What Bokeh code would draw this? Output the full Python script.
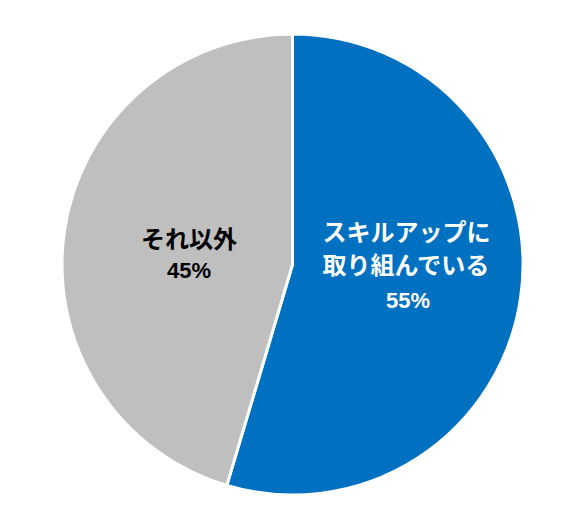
import numpy as np
from bokeh.plotting import figure
from bokeh.models import Range1d, ColumnDataSource
from bokeh.core.properties import value
from bokeh.embed import file_html
from bokeh.resources import INLINE

# ---- data ----
categories = ["スキルアップに\n取り組んでいる", "それ以外"]
shares = [54.6, 45.4]
pct_labels = ["55%", "45%"]
colors = ["#0070C0", "#BFBFBF"]

# ---- layout ----
W, H = 571, 510
cx, cy, r = 292, 246, 230.5

p = figure(width=W, height=H, output_backend="svg", toolbar_location=None,
           x_range=Range1d(0, W), y_range=Range1d(0, H), min_border=0)
p.axis.visible = False
p.grid.visible = False
p.outline_line_color = None
p.background_fill_color = "white"
p.border_fill_color = "white"

vals = np.array(shares, dtype=float)
frac = vals / vals.sum()
cum = np.concatenate([[0], np.cumsum(frac)])
start = np.pi / 2 - cum[:-1] * 2 * np.pi
end = np.pi / 2 - cum[1:] * 2 * np.pi

src = ColumnDataSource(dict(x=[cx] * len(vals), y=[cy] * len(vals),
                            start=start, end=end, color=colors))
p.wedge(x="x", y="y", radius=r, start_angle="start", end_angle="end",
        direction="clock", fill_color="color", line_color="white",
        line_width=3, source=src)

# labels
jp_font = value("Noto Sans CJK JP")
num_font = value("Liberation Sans")
text_colors = ["white", "black"]
# label anchor positions (layout)
name_pos = [(406, [280, 247]), (188.5, [273])]
pct_pos = [(407.5, 210), (188.5, 240)]

for i, cat in enumerate(categories):
    lines = cat.split("\n")
    x0, ys = name_pos[i]
    p.text(x=[x0] * len(lines), y=ys, text=lines, text_font=jp_font,
           text_font_style="bold", text_font_size="24px",
           text_color=text_colors[i], text_align="center",
           text_baseline="middle")
    px, py = pct_pos[i]
    p.text(x=[px], y=[py], text=[pct_labels[i]], text_font=num_font,
           text_font_style="bold", text_font_size="22px",
           text_color=text_colors[i], text_align="center",
           text_baseline="middle")

open("out.html", "w").write(file_html(p, INLINE))
